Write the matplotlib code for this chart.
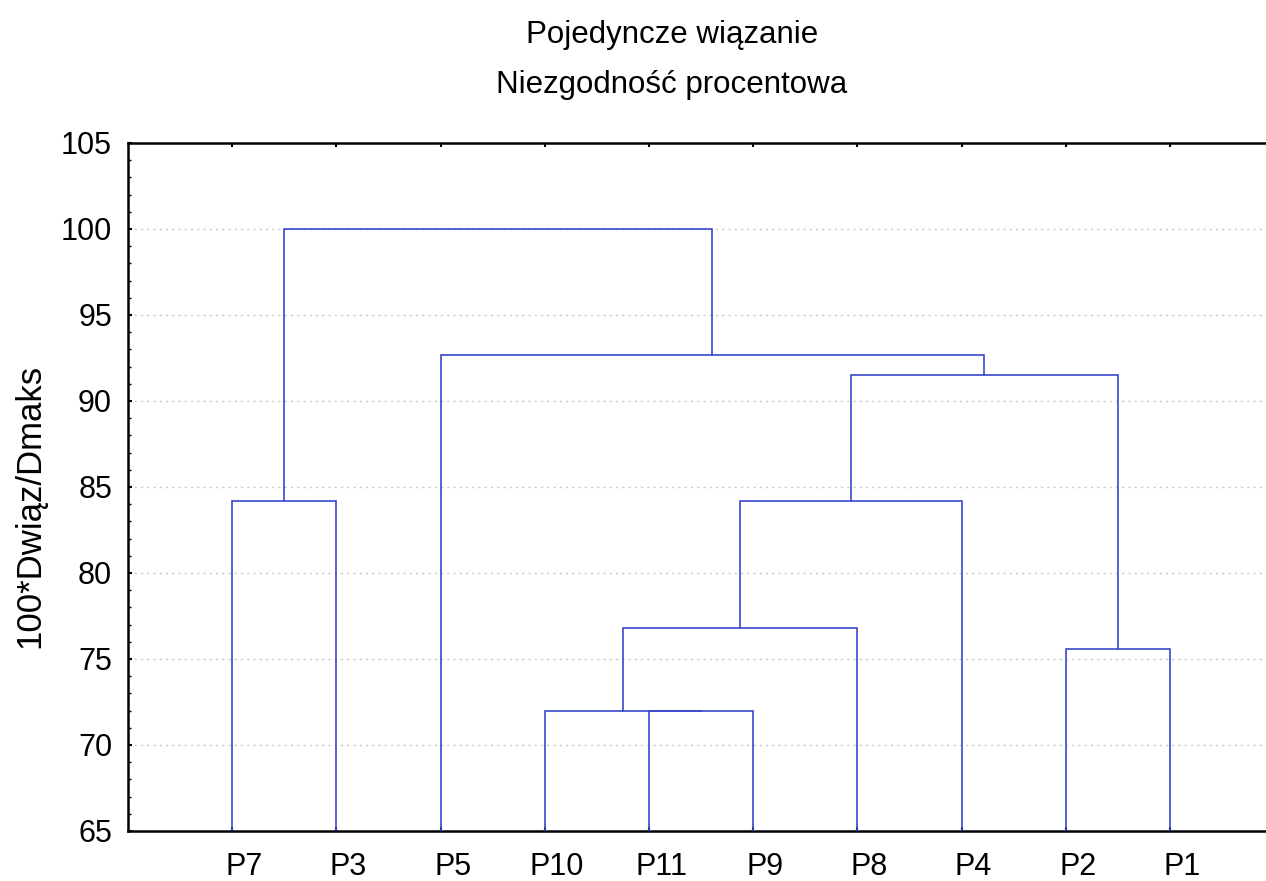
import matplotlib
matplotlib.use("Agg")
import matplotlib.pyplot as plt
from matplotlib.ticker import MultipleLocator
from matplotlib.transforms import ScaledTranslation

plt.rcParams['font.family'] = ['Liberation Sans', 'DejaVu Sans']

# Leaf order along the x axis
leaves = ["P7", "P3", "P5", "P10", "P11", "P9", "P8", "P4", "P2", "P1"]
# Merges: left child, right child, linkage distance (100*Dwiąz/Dmaks)
merge_left = ["P11", "P10", "C2", "P2", "P7", "C3", "C6", "P5", "C5"]
merge_right = ["P9", "C1", "P8", "P1", "P3", "P4", "C4", "C7", "C8"]
merge_height = [72.0, 72.0, 76.8, 75.6, 84.2, 84.2, 91.5, 92.7, 100.0]
merge_names = ["C1", "C2", "C3", "C4", "C5", "C6", "C7", "C8", "C9"]

title_lines = ["Pojedyncze wiązanie", "Niezgodność procentowa"]
y_label = "100*Dwiąz/Dmaks"
y_ticks = [65, 70, 75, 80, 85, 90, 95, 100, 105]

W, H = 1266, 881
fig = plt.figure(figsize=(W / 100, H / 100), dpi=100)
ax_left, ax_bottom, ax_top = 128, 831, 143
unit = 104.2
x_max = (W - ax_left) / unit
ax = fig.add_axes([ax_left / W, 1 - ax_bottom / H, (W - ax_left) / W, (ax_bottom - ax_top) / H])

ymin, ymax = 65, 105
pos = {name: i + 1 for i, name in enumerate(leaves)}
hgt = {name: 0.0 for name in leaves}
color = "#3848cc"
for l, r, h, n in zip(merge_left, merge_right, merge_height, merge_names):
    xl, xr = pos[l], pos[r]
    ax.plot([xl, xl, xr, xr], [hgt[l], h, h, hgt[r]], color=color, lw=1.2,
            solid_joinstyle='miter', zorder=3)
    pos[n] = (xl + xr) / 2
    hgt[n] = h

ax.set_xlim(0, x_max)
ax.set_ylim(ymin, ymax)
ax.set_xticks(range(1, len(leaves) + 1))
ax.set_xticklabels(leaves, fontsize=22)
ax.set_yticks(y_ticks)
ax.set_yticklabels([str(v) for v in y_ticks], fontsize=22)
ax.yaxis.set_minor_locator(MultipleLocator(1))
ax.tick_params(axis='y', which='major', direction='in', length=3, width=1.5, pad=11.5)
ax.tick_params(axis='y', which='minor', direction='in', length=2, width=1)
ax.tick_params(axis='x', which='major', direction='in', length=3, width=1.5, pad=15,
               top=True)
shift = ScaledTranslation(12 / 100, 0, fig.dpi_scale_trans)
for lbl in ax.get_xticklabels():
    lbl.set_transform(lbl.get_transform() + shift)
for v in y_ticks[1:-1]:
    ax.axhline(v, color='#c8c8c8', lw=1.0, ls=(0, (1.5, 3)), zorder=1)

for s in ['left', 'bottom', 'top']:
    ax.spines[s].set_linewidth(1.8)
    ax.spines[s].set_color('black')
ax.spines['right'].set_visible(False)

fig.text(672 / W, 1 - 35 / H, title_lines[0], ha='center', va='center', fontsize=22.5)
fig.text(672 / W, 1 - 85 / H, title_lines[1], ha='center', va='center', fontsize=22.5)
fig.text(30 / W, 1 - 506 / H, y_label, ha='center', va='center', rotation=90, fontsize=25)

fig.savefig("out.png", dpi=100)
